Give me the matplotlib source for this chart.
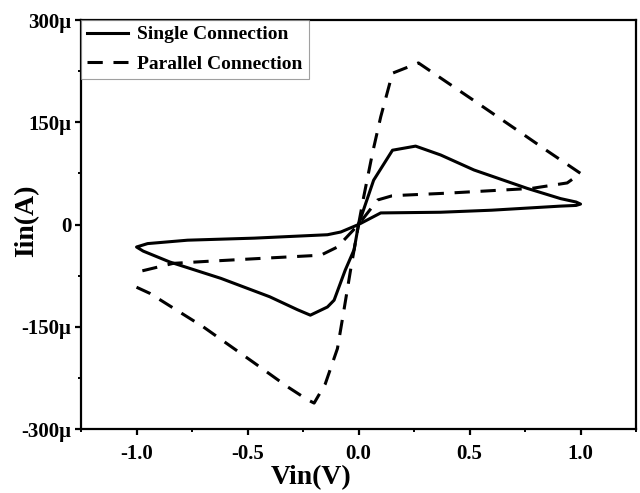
import matplotlib
matplotlib.use("Agg")
import matplotlib.pyplot as plt
import numpy as np
from matplotlib.ticker import MultipleLocator, FixedLocator

plt.rcParams['font.family'] = ['Liberation Serif', 'DejaVu Serif']
plt.rcParams['font.weight'] = 'bold'

# Single connection loop (V, uA)
single_v = [0.0, 0.068, 0.153, 0.257, 0.37, 0.52, 0.76, 0.91, 0.98, 1.0,
            0.98, 0.91, 0.6, 0.37, 0.1, 0.0, -0.08, -0.14, -0.47, -0.77, -0.95, -1.0,
            -0.97, -0.85, -0.62, -0.40, -0.275, -0.217, -0.14, -0.11, -0.06, -0.02, 0.0]
single_i = [0.0, 65, 109, 115, 102, 80, 53, 38, 33, 30,
            28, 27, 21, 18, 17, 0.0, -11, -15, -20, -23, -28, -33,
            -39, -55, -79, -106, -125, -133, -121, -111, -67, -37, 0.0]

# Parallel connection loop (V, uA); NaN marks the break at -1 V
parallel_v = [0.0, 0.023, 0.063, 0.1, 0.153, 0.27, 0.51, 0.73, 0.85, 1.0,
              0.94, 0.78, 0.4, 0.2, 0.15, 0.086, 0.0, -0.095, -0.17, -0.40, -0.68, -0.835, -1.0,
              np.nan, -1.0, -0.94, -0.70, -0.47, -0.32, -0.23, -0.2, -0.15, -0.095, -0.068, -0.036, 0.0]
parallel_i = [0.0, 40, 105, 158, 222, 237, 184, 135, 108, 75,
              61, 53, 46, 43, 42, 36, 0.0, -33, -45, -49, -54, -57, -70,
              np.nan, -92, -101, -150, -203, -238, -257, -262, -234, -182, -130, -67, 0.0]

xticks = [-1.0, -0.5, 0.0, 0.5, 1.0]
xtick_labels = ['-1.0', '-0.5', '0.0', '0.5', '1.0']
yticks = [-300e-6, -150e-6, 0, 150e-6, 300e-6]
ytick_labels = ['-300\u03bc', '-150\u03bc', '0', '150\u03bc', '300\u03bc']

fig = plt.figure(figsize=(6.4, 4.93), dpi=100)
ax = fig.add_axes([0.1266, 0.1298, 0.9938 - 0.1266, 0.9594 - 0.1298])

ax.plot(single_v, np.array(single_i) * 1e-6, color='black', lw=2.2,
        solid_joinstyle='round', label='Single Connection')
ax.plot(parallel_v, np.array(parallel_i) * 1e-6, color='black', lw=2.2,
        dashes=(5, 3.5), dash_capstyle='butt', label='Parallel Connection')

ax.set_xlim(-1.25, 1.25)
ax.set_ylim(-300e-6, 300e-6)
ax.xaxis.set_major_locator(FixedLocator(xticks))
ax.set_xticklabels(xtick_labels)
ax.xaxis.set_minor_locator(MultipleLocator(0.25))
ax.yaxis.set_major_locator(FixedLocator(yticks))
ax.set_yticklabels(ytick_labels)
ax.yaxis.set_minor_locator(MultipleLocator(75e-6))

for s in ax.spines.values():
    s.set_linewidth(1.6)
ax.tick_params(which='major', direction='out', length=4, width=1.6, labelsize=15)
ax.tick_params(axis='x', which='major', pad=7)
ax.tick_params(axis='y', which='major', pad=3)
ax.tick_params(which='minor', direction='out', length=2.5, width=1.4)
for lab in ax.get_xticklabels() + ax.get_yticklabels():
    lab.set_fontweight('bold')

ax.set_xlabel('Vin(V)', fontsize=20, fontweight='bold', va='center', ha='center')
ax.xaxis.set_label_coords(0.414, -0.12)
ax.set_ylabel('Iin(A)', fontsize=20, fontweight='bold', va='center', ha='center')
ax.yaxis.set_label_coords(-0.097, 0.508)

leg = ax.legend(loc='upper left', borderaxespad=0, frameon=True,
                fancybox=False, handlelength=2.1, handletextpad=0.5,
                borderpad=0.3, labelspacing=0.6, prop={'weight': 'bold', 'size': 14})
leg.get_frame().set_edgecolor('#888888')
leg.get_frame().set_linewidth(0.8)

fig.savefig('out.png', dpi=100)
